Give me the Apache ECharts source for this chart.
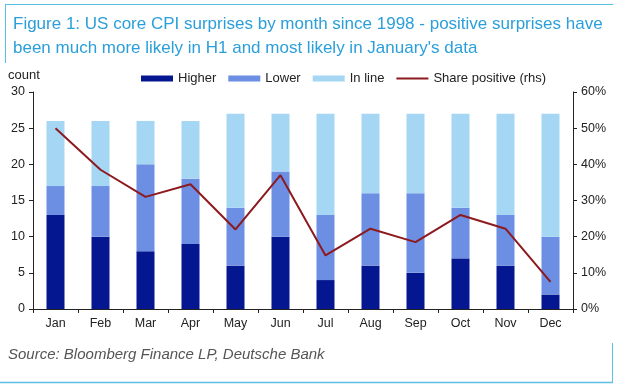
<!DOCTYPE html>
<html>
<head>
<meta charset="utf-8">
<script src="https://cdn.jsdelivr.net/npm/echarts@6/dist/echarts.min.js"></script>
<style>
html,body{margin:0;padding:0;background:#fff;}
#c{width:620px;height:389px;}
</style>
</head>
<body>
<div id="c"></div>
<script>
var months = ['Jan','Feb','Mar','Apr','May','Jun','Jul','Aug','Sep','Oct','Nov','Dec'];
var higher = [13,10,8,9,6,10,4,6,5,7,6,2];
var lower  = [4,7,12,9,8,9,9,10,11,7,7,8];
var inline = [9,9,6,8,13,8,14,11,11,13,14,17];
var sharePositive = [0.50,0.385,0.31,0.345,0.22,0.37,0.148,0.222,0.185,0.26,0.222,0.075];

var FONT = 'Liberation Sans, Arial, sans-serif';
var lineIcon = 'path://M0,0L0.05,0L0,0.05Z M0,2L32,2L32,4L0,4Z M32,6L31.95,6L32,5.95Z';
var chart = echarts.init(document.getElementById('c'), null, {renderer:'canvas'});
chart.setOption({
  backgroundColor:'#fff',
  animation:false,
  textStyle:{fontFamily:FONT},
  title:{
    text:"Figure 1: US core CPI surprises by month since 1998 - positive surprises have\nbeen much more likely in H1 and most likely in January's data",
    left:8, top:8,
    textStyle:{fontFamily:FONT,fontSize:17,fontWeight:'normal',color:'#2b9fd9',lineHeight:23.5}
  },
  legend:{
    left:136, top:67, itemWidth:32, itemHeight:6, itemGap:12,
    textStyle:{fontFamily:FONT,fontSize:13,color:'#222'},
    data:[
      {name:'Higher',icon:'rect'},
      {name:'Lower',icon:'rect'},
      {name:'In line',icon:'rect'},
      {name:'Share positive (rhs)',icon:lineIcon}
    ]
  },
  grid:{left:33,right:47,top:92,bottom:80,containLabel:false},
  xAxis:{
    type:'category', data:months, boundaryGap:true,
    axisLine:{lineStyle:{color:'#222',width:1}},
    axisTick:{show:true,alignWithLabel:false,length:4,lineStyle:{color:'#222'}},
    axisLabel:{fontFamily:FONT,fontSize:12.5,color:'#222',margin:8}
  },
  yAxis:[
    {type:'value',min:0,max:30,interval:5,
     axisLine:{show:true,lineStyle:{color:'#222'}},
     axisTick:{show:true,length:4,lineStyle:{color:'#222'}},
     splitLine:{show:false},
     axisLabel:{fontFamily:FONT,fontSize:12.5,color:'#222',margin:8}},
    {type:'value',min:0,max:0.6,interval:0.1,position:'right',
     axisLine:{show:true,lineStyle:{color:'#222'}},
     axisTick:{show:true,length:4,lineStyle:{color:'#222'}},
     splitLine:{show:false},
     axisLabel:{fontFamily:FONT,fontSize:12.5,color:'#222',margin:8,
       formatter:function(v){return Math.round(v*100)+'%';}}}
  ],
  series:[
    {name:'Higher',type:'bar',stack:'s',barWidth:18,data:higher,itemStyle:{color:'#041790'}},
    {name:'Lower',type:'bar',stack:'s',barWidth:18,data:lower,itemStyle:{color:'#6d8fe3'}},
    {name:'In line',type:'bar',stack:'s',barWidth:18,data:inline,itemStyle:{color:'#a5d7f4'}},
    {name:'Share positive (rhs)',type:'line',yAxisIndex:1,data:sharePositive,
     symbol:'none',showSymbol:false,lineStyle:{color:'#8c1a1f',width:2},itemStyle:{color:'#8c1a1f'}}
  ],
  graphic:[
    {type:'line',shape:{x1:5,y1:4.5,x2:613,y2:4.5},style:{stroke:'#5bc0e8',lineWidth:1}},
    {type:'line',shape:{x1:5.5,y1:4,x2:5.5,y2:63},style:{stroke:'#5bc0e8',lineWidth:1}},
    {type:'line',shape:{x1:0,y1:382.5,x2:613,y2:382.5},style:{stroke:'#5bc0e8',lineWidth:1.5}},
    {type:'line',shape:{x1:612.5,y1:343,x2:612.5,y2:383},style:{stroke:'#5bc0e8',lineWidth:1}},
    {type:'text',left:8,top:69,style:{text:'count',font:'13px '+FONT,fill:'#222'}},
    {type:'text',left:8,top:347,style:{text:'Source: Bloomberg Finance LP, Deutsche Bank',font:'italic 15px '+FONT,fill:'#555'}}
  ]
});
</script>
</body>
</html>
